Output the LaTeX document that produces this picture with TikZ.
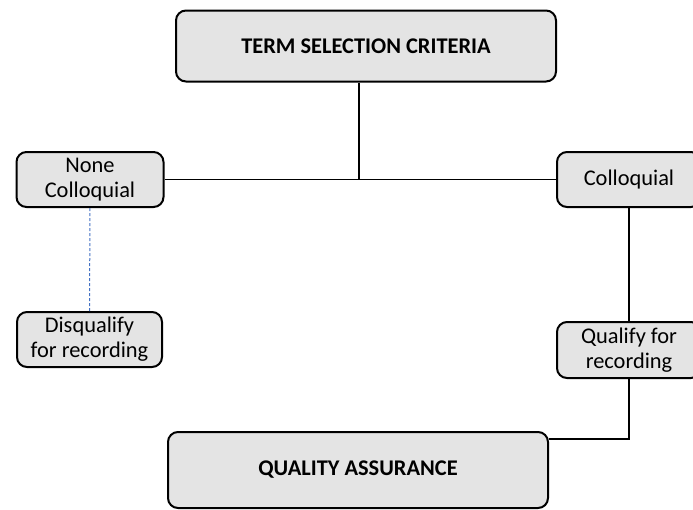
\documentclass[tikz,border=0pt]{standalone}
\usepackage{fontspec}
\setmainfont{Carlito}
\usepackage{tikz}
\usepackage{xcolor}
\usetikzlibrary{positioning}

\definecolor{boxgray}{HTML}{E4E4E4}
\definecolor{dashblue}{HTML}{4472C4}

\tikzset{
    critbox/.style={draw=black, line width=2pt, fill=boxgray, rounded corners=10pt,
        align=center, inner sep=0pt, font=\fontsize{22.4}{25}\selectfont},
    link/.style={draw=black, line width=1.4pt}
}

\begin{document}
\begin{tikzpicture}[x=1pt, y=-1pt]
        \useasboundingbox (0,0) rectangle (693,509);

        % Criteria box
        \node[critbox, minimum width=380pt, minimum height=71pt, font=\fontsize{22.4}{25}\selectfont\bfseries] (term) at (366,46) {TERM SELECTION CRITERIA};

        % Left branch
        \node[critbox, minimum width=147pt, minimum height=55pt] (none) at (90,179.5) {None\\Colloquial};
        \node[critbox, minimum width=145pt, minimum height=55pt] (disq) at (89.5,339.5) {Disqualify\\for recording};

        % Right branch
        \node[critbox, minimum width=144pt, minimum height=55pt] (coll) at (629,179.5) {Colloquial};
        \node[critbox, minimum width=144pt, minimum height=56pt] (qual) at (629,350) {Qualify for\\recording};

        % Quality box
        \node[critbox, minimum width=380pt, minimum height=76pt, font=\fontsize{22.4}{25}\selectfont\bfseries] (qa) at (358,470) {QUALITY ASSURANCE};

        % Connectors
        \coordinate (junction) at (359,180);
        \coordinate (bend) at (629,439);
        \draw[link] (junction |- term.south) -- (junction);
        \draw[link] (none.east) -- (coll.west);
        \draw[dashblue, line width=1pt, dash pattern=on 3pt off 2pt] (none) -- (disq);
        \draw[link] (coll) -- (qual);
        \draw[link] (qual.south) -- (bend) -- (bend -| qa.east);

    \end{tikzpicture}
\end{document}
